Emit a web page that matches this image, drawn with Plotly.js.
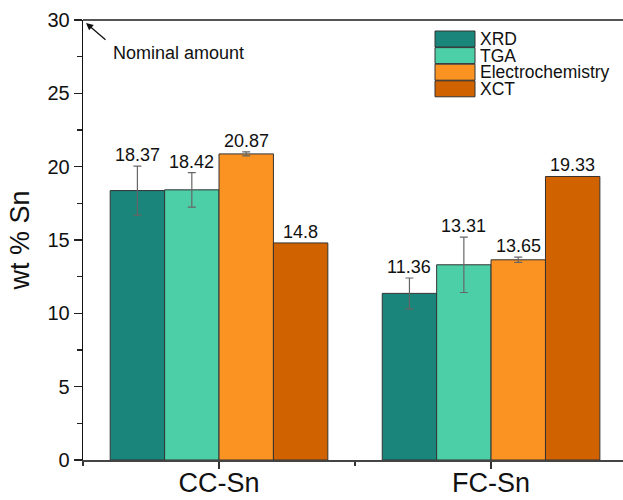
<!DOCTYPE html>
<html>
<head>
<meta charset="utf-8">
<script src="https://cdn.plot.ly/plotly-3.0.1.min.js"></script>
<style>html,body{margin:0;padding:0;background:#fff;}#chart{width:623px;height:500px;}</style>
</head>
<body>
<div id="chart"></div>
<script>
// ---- data ----
const categories = ['CC-Sn', 'FC-Sn'];
const seriesNames = ['XRD', 'TGA', 'Electrochemistry', 'XCT'];
const xrdValues = [18.37, 11.36];
const xrdErrors = [1.67, 1.05];
const tgaValues = [18.42, 13.31];
const tgaErrors = [1.18, 1.89];
const echemValues = [20.87, 13.65];
const echemErrors = [0.14, 0.18];
const xctValues = [14.8, 19.33];
const xctErrors = null;
const seriesColors = ['#1a857a', '#4ccfa6', '#fb9322', '#d06300'];
const yTickVals = [0, 5, 10, 15, 20, 25, 30];

const allValues = [xrdValues, tgaValues, echemValues, xctValues];
const allErrors = [xrdErrors, tgaErrors, echemErrors, xctErrors];

// ---- layout constants ----
const W = 623, H = 500;
const M = {l: 83, r: 0, t: 20, b: 40};
const PW = W - M.l - M.r, PH = H - M.t - M.b;
const BARGAP = 0.2;
const FONT = 'Liberation Sans, Arial, sans-serif';
const xIdx = categories.map((c, i) => i);
const px2x = p => (p - M.l) / PW;
const py2y = p => 1 - (p - M.t) / PH;

const traces = seriesNames.map((name, s) => {
  const t = {
    type: 'bar',
    name: name,
    x: xIdx,
    y: allValues[s],
    marker: {color: seriesColors[s], line: {color: '#333333', width: 1}},
    showlegend: false,
    hoverinfo: 'skip'
  };
  if (allErrors[s]) {
    t.error_y = {type: 'data', array: allErrors[s], visible: true,
                 color: '#666666', thickness: 1.2, width: 4};
  }
  return t;
});

const nS = seriesNames.length;
const barW = (1 - BARGAP) / nS;
const annotations = [];
seriesNames.forEach((name, s) => {
  allValues[s].forEach((v, c) => {
    const e = allErrors[s] ? allErrors[s][c] : 0;
    annotations.push({
      x: xIdx[c] + (s - (nS - 1) / 2) * barW,
      y: v + e,
      xref: 'x', yref: 'y',
      text: String(v),
      showarrow: false,
      xanchor: 'center', yanchor: 'bottom',
      yshift: -1,
      font: {family: FONT, size: 18, color: '#111'}
    });
  });
});

// Nominal amount arrow + text
annotations.push({
  x: 0, y: 1, xref: 'paper', yref: 'paper',
  text: '', showarrow: true, arrowhead: 2, arrowsize: 1.1, arrowwidth: 1.3,
  arrowcolor: '#111', ax: 21, ay: 18, xshift: 3, yshift: -3, standoff: 0
});
annotations.push({
  x: px2x(111), y: py2y(53), xref: 'paper', yref: 'paper',
  text: 'Nominal amount', showarrow: false, xanchor: 'left', yanchor: 'middle',
  font: {family: FONT, size: 18, color: '#111'}
});

// custom legend
const shapes = [];
const legTop = 31, legStep = 16.6, legH = 16;
seriesNames.forEach((name, s) => {
  const top = legTop + s * legStep;
  shapes.push({
    type: 'rect', xref: 'paper', yref: 'paper',
    x0: px2x(435), x1: px2x(475), y0: py2y(top + legH), y1: py2y(top),
    fillcolor: seriesColors[s], line: {color: '#333', width: 1}
  });
  annotations.push({
    x: px2x(479), y: py2y(top + legH / 2), xref: 'paper', yref: 'paper',
    text: name, showarrow: false, xanchor: 'left', yanchor: 'middle',
    borderpad: 0,
    font: {family: FONT, size: 17.5, color: '#111'}
  });
});
// top frame line
shapes.push({type: 'line', xref: 'paper', yref: 'paper', x0: 0, x1: 1, y0: 1, y1: 1,
             line: {color: '#555', width: 2}});

const layout = {
  width: W, height: H,
  margin: M,
  paper_bgcolor: '#fff', plot_bgcolor: '#fff',
  barmode: 'group', bargap: BARGAP, bargroupgap: 0,
  showlegend: false,
  font: {family: FONT, color: '#111'},
  xaxis: {
    range: [-0.5, 1.485],
    tickmode: 'array', tickvals: xIdx, ticktext: categories,
    ticks: 'outside', ticklen: 7, tickwidth: 1.2, tickcolor: '#333',
    ticklabelstandoff: -9,
    minor: {ticks: 'outside', tickmode: 'linear', tick0: 0.5, dtick: 1, ticklen: 4, tickwidth: 1.2, tickcolor: '#333'},
    showline: true, linecolor: '#444', linewidth: 1.5,
    showgrid: false, zeroline: false,
    tickfont: {family: FONT, size: 27, color: '#111'}
  },
  yaxis: {
    range: [0, 30],
    tickmode: 'array', tickvals: yTickVals,
    ticks: 'outside', ticklen: 8, tickwidth: 1.2, tickcolor: '#222',
    minor: {ticks: 'outside', tickmode: 'linear', tick0: 0, dtick: 2.5, ticklen: 4.5, tickwidth: 1.2, tickcolor: '#222'},
    showline: true, linecolor: '#111', linewidth: 1.3,
    showgrid: false, zeroline: false,
    tickfont: {family: FONT, size: 20, color: '#111'},
    title: {text: 'wt % Sn', font: {family: FONT, size: 27, color: '#111'}, standoff: 10}
  },
  annotations: annotations,
  shapes: shapes
};

Plotly.newPlot('chart', traces, layout, {displayModeBar: false, staticPlot: true});
</script>
</body>
</html>
